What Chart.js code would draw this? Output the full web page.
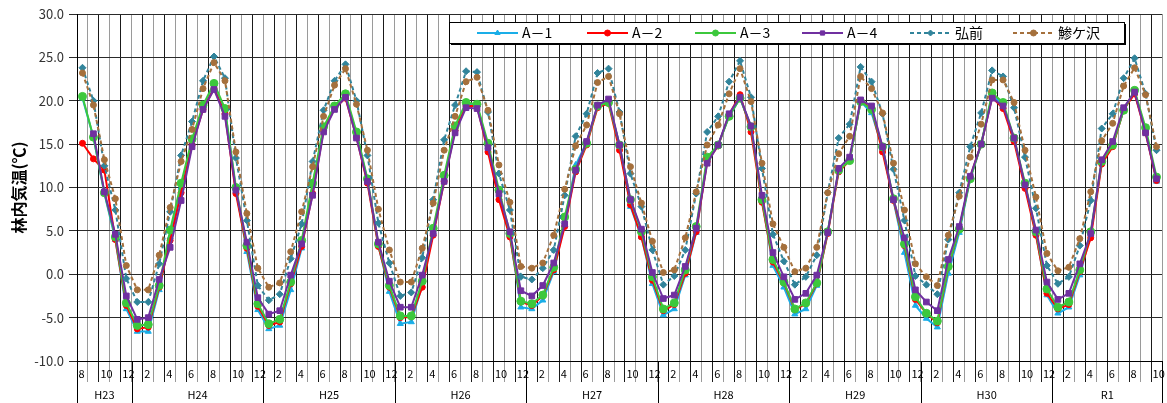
<!DOCTYPE html>
<html>
<head>
<meta charset="utf-8">
<script src="https://cdn.jsdelivr.net/npm/chart.js@4.4.1/dist/chart.umd.min.js"></script>
<style>
  html, body { margin: 0; padding: 0; background: #fff; }
  #c { display: block; }
</style>
</head>
<body>
<canvas id="c" width="1167" height="403"></canvas>
<script>
// Monthly mean forest air temperature, Aug 2011 (H23) - Oct 2019 (R1)
const monthLabels = [
  8, 9, 10, 11, 12,
  1, 2, 3, 4, 5, 6, 7, 8, 9, 10, 11, 12,
  1, 2, 3, 4, 5, 6, 7, 8, 9, 10, 11, 12,
  1, 2, 3, 4, 5, 6, 7, 8, 9, 10, 11, 12,
  1, 2, 3, 4, 5, 6, 7, 8, 9, 10, 11, 12,
  1, 2, 3, 4, 5, 6, 7, 8, 9, 10, 11, 12,
  1, 2, 3, 4, 5, 6, 7, 8, 9, 10, 11, 12,
  1, 2, 3, 4, 5, 6, 7, 8, 9, 10, 11, 12,
  1, 2, 3, 4, 5, 6, 7, 8, 9, 10
];
const eraLabels = ['H23', 'H24', 'H25', 'H26', 'H27', 'H28', 'H29', 'H30', 'R1'];
const eraMonths = [5, 12, 12, 12, 12, 12, 12, 12, 10];

const seriesNames = ['A－1', 'A－2', 'A－3', 'A－4', '弘前', '鯵ケ沢'];

const a1 = [
  20.3, 15.8, 9.3, 4.0, -4.0,
  -6.6, -6.6, -1.8, 4.3, 10.0, 15.2, 19.3, 21.5, 19.0, 9.8, 2.6, -4.1,
  -6.3, -5.9, -1.8, 3.0, 10.3, 16.8, 19.3, 20.5, 16.2, 10.8, 3.3, -2.0,
  -5.7, -5.5, -1.3, 4.9, 11.0, 16.8, 19.5, 19.5, 14.7, 9.1, 4.5, -3.8,
  -4.0, -3.0, 0.3, 6.0, 12.6, 15.2, 19.4, 19.9, 14.9, 7.8, 4.3, -1.1,
  -4.7, -4.0, -0.1, 4.8, 13.3, 14.9, 18.2, 20.3, 17.0, 8.6, 1.0, -1.5,
  -4.6, -4.0, -1.3, 4.9, 12.0, 13.1, 19.9, 18.6, 14.5, 8.5, 2.5, -3.6,
  -5.1, -6.1, 0.1, 4.8, 11.0, 15.0, 20.6, 19.6, 15.6, 10.3, 4.7, -2.4,
  -4.5, -3.8, -0.1, 4.7, 12.9, 14.9, 18.9, 21.0, 16.6, 10.7
];
const a2 = [
  15.1, 13.3, 12.0, 4.0, -3.6,
  -6.3, -6.1, -1.5, 3.9, 9.4, 14.9, 19.0, 21.4, 18.5, 9.3, 3.0, -3.7,
  -5.9, -5.5, -1.1, 3.2, 9.3, 16.6, 19.1, 20.3, 15.8, 10.5, 3.2, -1.5,
  -5.0, -4.9, -1.5, 4.5, 10.7, 16.6, 19.4, 19.4, 14.1, 8.6, 4.3, -3.2,
  -3.6, -2.5, 0.5, 5.5, 11.8, 14.9, 19.2, 19.7, 14.3, 8.0, 4.3, -0.7,
  -4.2, -3.5, 0.1, 4.9, 13.0, 14.8, 18.4, 20.7, 16.4, 8.3, 1.4, -1.0,
  -4.1, -3.4, -1.1, 4.7, 11.8, 13.1, 20.0, 19.1, 14.1, 8.5, 3.3, -2.9,
  -4.5, -5.6, 0.8, 5.2, 11.2, 15.0, 20.4, 19.1, 15.3, 9.9, 4.5, -2.2,
  -4.0, -3.5, 0.3, 4.2, 12.7, 14.7, 19.0, 20.8, 16.3, 10.8
];
const a3 = [
  20.5, 15.8, 9.4, 4.3, -3.3,
  -5.9, -5.8, -1.3, 5.1, 10.5, 15.6, 19.5, 22.0, 19.1, 10.0, 3.3, -3.4,
  -5.7, -5.2, -0.9, 3.9, 10.5, 17.0, 19.4, 20.8, 16.4, 11.0, 3.5, -1.3,
  -4.8, -4.8, -0.8, 5.3, 11.4, 17.1, 19.8, 19.6, 15.1, 9.7, 4.7, -3.1,
  -3.4, -2.4, 0.8, 6.6, 12.1, 15.1, 19.4, 19.8, 14.9, 8.6, 4.9, -0.3,
  -4.0, -3.3, 0.5, 5.5, 13.5, 14.9, 18.2, 20.3, 17.0, 8.6, 1.7, -0.9,
  -4.0, -3.3, -1.0, 4.9, 12.0, 13.1, 19.9, 19.0, 14.7, 8.7, 3.5, -2.6,
  -4.5, -5.4, 0.9, 5.2, 11.0, 15.0, 20.9, 19.8, 15.7, 10.5, 4.9, -1.7,
  -3.8, -3.2, 0.5, 4.9, 13.0, 14.9, 18.9, 21.2, 16.9, 11.2
];
const a4 = [
  null, 16.2, 9.5, 4.6, -2.5,
  -5.2, -5.0, -0.6, 3.1, 8.5, 14.7, 19.0, 21.3, 18.2, 9.7, 3.7, -2.7,
  -4.6, -4.2, -0.1, 3.5, 9.1, 16.4, 19.0, 20.4, 15.7, 10.7, 3.7, -0.8,
  -3.8, -3.8, -0.1, 4.7, 10.7, 16.3, 19.2, 19.1, 14.6, 9.3, 4.9, -1.9,
  -2.5, -1.3, 1.3, 5.8, 12.0, 15.3, 19.5, 20.2, 14.9, 8.6, 5.2, 0.2,
  -2.8, -2.4, 0.9, 5.3, 12.8, 14.9, 18.5, 20.4, 17.1, 9.1, 2.5, -0.3,
  -2.9, -2.2, -0.1, 4.8, 12.2, 13.5, 20.1, 19.4, 14.7, 8.6, 4.2, -1.8,
  -3.2, -4.2, 1.7, 5.5, 11.3, 15.0, 20.3, 19.4, 15.7, 10.3, 5.1, -0.9,
  -2.9, -2.2, 1.2, 4.7, 13.2, 15.3, 19.2, 21.0, 16.3, 11.0
];
const hirosaki = [
  23.8, 20.0, 12.5, 7.4, -0.5,
  -3.2, -3.2, 1.2, 7.2, 13.7, 17.6, 22.3, 25.1, 22.6, 13.4, 6.2, -1.3,
  -3.0, -2.3, 1.8, 5.8, 13.0, 18.9, 22.3, 24.2, 20.0, 13.7, 5.9, 1.3,
  -2.5, -2.1, 1.9, 8.6, 15.5, 19.5, 23.4, 23.3, 18.7, 11.6, 7.4, -0.3,
  -0.6, 0.7, 2.8, 9.1, 15.9, 18.5, 23.2, 23.7, 18.7, 11.6, 7.8, 2.8,
  -1.2, -0.2, 2.8, 9.3, 16.4, 18.2, 22.2, 24.6, 20.4, 12.2, 4.6, 1.5,
  -1.2, -0.3, 2.2, 9.4, 15.7, 17.3, 23.9, 22.2, 18.5, 12.1, 6.2, -0.2,
  -1.2, -2.3, 4.0, 9.4, 14.7, 18.6, 23.5, 22.8, 19.2, 13.5, 7.6, 1.0,
  -1.1, -0.3, 3.3, 8.5, 16.8, 18.5, 22.6, 24.9, 20.8, 14.3
];
const ajigasawa = [
  23.2, 19.5, 13.2, 8.7, 1.0,
  -1.8, -1.8, 2.2, 7.7, 13.0, 16.7, 21.4, 24.4, 22.3, 14.1, 7.0, 0.7,
  -1.5, -1.0, 2.6, 7.2, 12.4, 18.2, 21.8, 23.7, 19.6, 14.3, 7.5, 2.8,
  -0.9, -0.9, 3.0, 8.2, 14.3, 18.2, 22.2, 22.7, 18.9, 12.6, 8.3, 0.9,
  0.7, 1.3, 4.5, 9.8, 14.8, 17.2, 22.1, 22.8, 18.5, 12.4, 8.2, 3.8,
  0.2, 0.5, 4.2, 9.5, 14.9, 17.2, 20.8, 23.7, 19.9, 12.8, 5.8, 3.1,
  0.3, 0.7, 3.1, 9.4, 13.9, 15.9, 22.8, 21.4, 18.6, 12.8, 7.4, 1.2,
  -0.3, -1.3, 4.5, 9.0, 13.5, 17.3, 22.4, 22.4, 19.8, 14.3, 8.9, 2.4,
  0.4, 0.8, 4.1, 9.5, 15.4, 17.4, 21.7, 23.8, 20.7, 14.7
];

const FONT = "'Noto Sans CJK JP', 'Noto Sans', sans-serif";

const seriesStyle = [
  { color: '#1AAEE8', point: 'triangle', radius: 3.5, dash: [] },
  { color: '#FF0000', point: 'circle',   radius: 3,   dash: [] },
  { color: '#3CC83C', point: 'circle',   radius: 4,   dash: [] },
  { color: '#7030A0', point: 'rect',     radius: 4,   dash: [] },
  { color: '#31849B', point: 'rectRot',  radius: 3.5, dash: [4, 3] },
  { color: '#A5703C', point: 'circle',   radius: 3,   dash: [4, 3] }
];
const seriesData = [a1, a2, a3, a4, hirosaki, ajigasawa];

const datasets = seriesData.map((d, k) => ({
  label: seriesNames[k],
  data: d,
  borderColor: seriesStyle[k].color,
  backgroundColor: seriesStyle[k].color,
  borderWidth: 2,
  borderDash: seriesStyle[k].dash,
  pointStyle: seriesStyle[k].point,
  pointRadius: seriesStyle[k].radius,
  pointBackgroundColor: seriesStyle[k].color,
  pointBorderColor: seriesStyle[k].color,
  pointBorderWidth: 1,
  tension: 0,
  spanGaps: false,
  order: seriesData.length - k   // later series painted on top
}));

const GRID_DARK = '#1a1a1a';
const GRID_LIGHT = '#9a9a9a';

// Era (fiscal-year) row under the month labels
const eraRowPlugin = {
  id: 'eraRow',
  afterDraw(chart) {
    const ctx = chart.ctx;
    const xs = chart.scales.x;
    const half = (xs.getPixelForValue(1) - xs.getPixelForValue(0)) / 2;
    const top = chart.chartArea.bottom;
    const bottom = chart.height;
    ctx.save();
    ctx.strokeStyle = '#000';
    ctx.lineWidth = 1;
    ctx.fillStyle = '#000';
    ctx.font = '11px ' + FONT;
    ctx.textAlign = 'center';
    ctx.textBaseline = 'middle';
    let start = 0;
    const edges = [];
    eraMonths.forEach((n, k) => {
      const x0 = xs.getPixelForValue(start) - half;
      const x1 = xs.getPixelForValue(start + n - 1) + half;
      edges.push(x0, x1);
      ctx.fillText(eraLabels[k], (x0 + x1) / 2, 395);
      start += n;
    });
    ctx.beginPath();
    edges.forEach(x => {
      const px = Math.round(x) + 0.5;
      ctx.moveTo(px, top);
      ctx.lineTo(px, bottom);
    });
    ctx.stroke();
    ctx.restore();
  }
};

// Boxed legend drawn inside the plot area
const legendBoxPlugin = {
  id: 'legendBox',
  afterDraw(chart) {
    const ctx = chart.ctx;
    const box = { x: 449, y: 22, w: 675, h: 21 };
    const itemX = [477, 587, 695, 802, 910, 1013];
    const lineLen = 41;
    ctx.save();
    ctx.fillStyle = '#000';
    ctx.fillRect(box.x + 2, box.y + 2, box.w, box.h);
    ctx.fillStyle = '#fff';
    ctx.fillRect(box.x, box.y, box.w, box.h);
    ctx.strokeStyle = '#000';
    ctx.lineWidth = 1;
    ctx.strokeRect(box.x + 0.5, box.y + 0.5, box.w, box.h);
    const cy = box.y + box.h / 2 + 0.5;
    chart.data.datasets.forEach((ds, k) => {
      const x0 = itemX[k];
      ctx.strokeStyle = ds.borderColor;
      ctx.lineWidth = 2;
      ctx.setLineDash(ds.borderDash || []);
      ctx.beginPath();
      ctx.moveTo(x0, cy);
      ctx.lineTo(x0 + lineLen, cy);
      ctx.stroke();
      ctx.setLineDash([]);
      ctx.fillStyle = ds.pointBackgroundColor;
      ctx.strokeStyle = ds.pointBorderColor;
      ctx.lineWidth = 1;
      Chart.helpers.drawPoint(ctx, {
        pointStyle: ds.pointStyle,
        radius: Math.min(ds.pointRadius, 3),
        rotation: 0,
        borderWidth: 1
      }, x0 + lineLen / 2, cy);
      ctx.fillStyle = '#000';
      ctx.font = '14px ' + FONT;
      ctx.textAlign = 'left';
      ctx.textBaseline = 'middle';
      ctx.fillText(ds.label, x0 + lineLen + 4, cy);
    });
    ctx.restore();
  }
};

new Chart(document.getElementById('c'), {
  type: 'line',
  data: { labels: monthLabels.map(String), datasets },
  plugins: [eraRowPlugin, legendBoxPlugin],
  options: {
    responsive: false,
    animation: false,
    devicePixelRatio: 1,
    layout: { padding: { top: 14, right: 4, left: 0, bottom: 0 } },
    plugins: { legend: { display: false }, tooltip: { enabled: false } },
    scales: {
      x: {
        type: 'category',
        offset: true,
        grid: {
          offset: true,
          color: c => (c.index % 2 === 0 ? GRID_DARK : GRID_LIGHT),
          tickColor: c => (c.index % 2 === 0 ? GRID_DARK : GRID_LIGHT),
          tickLength: 21,
          lineWidth: 1
        },
        border: { color: '#000' },
        ticks: {
          autoSkip: false,
          maxRotation: 0,
          minRotation: 0,
          align: 'start',
          labelOffset: -4,
          padding: -15,
          color: '#000',
          font: { size: 11, family: FONT },
          callback: (v, i) => (i % 2 === 0 ? String(monthLabels[i]) : '')
        },
        afterFit: s => { s.height = 42; }
      },
      y: {
        min: -10,
        max: 30,
        ticks: {
          stepSize: 5,
          color: '#333',
          padding: 5,
          font: { size: 13, family: FONT },
          callback: v => Number(v).toFixed(1)
        },
        grid: { color: '#2a2a2a', tickColor: '#2a2a2a', tickLength: 8 },
        border: { color: '#000' },
        title: {
          display: true,
          text: '林内気温(℃)',
          color: '#000',
          font: { size: 16, weight: 'bold', family: FONT },
          padding: { top: 9, bottom: 0 }
        },
        afterFit: s => { s.width = 77; }
      }
    }
  }
});
</script>
</body>
</html>
